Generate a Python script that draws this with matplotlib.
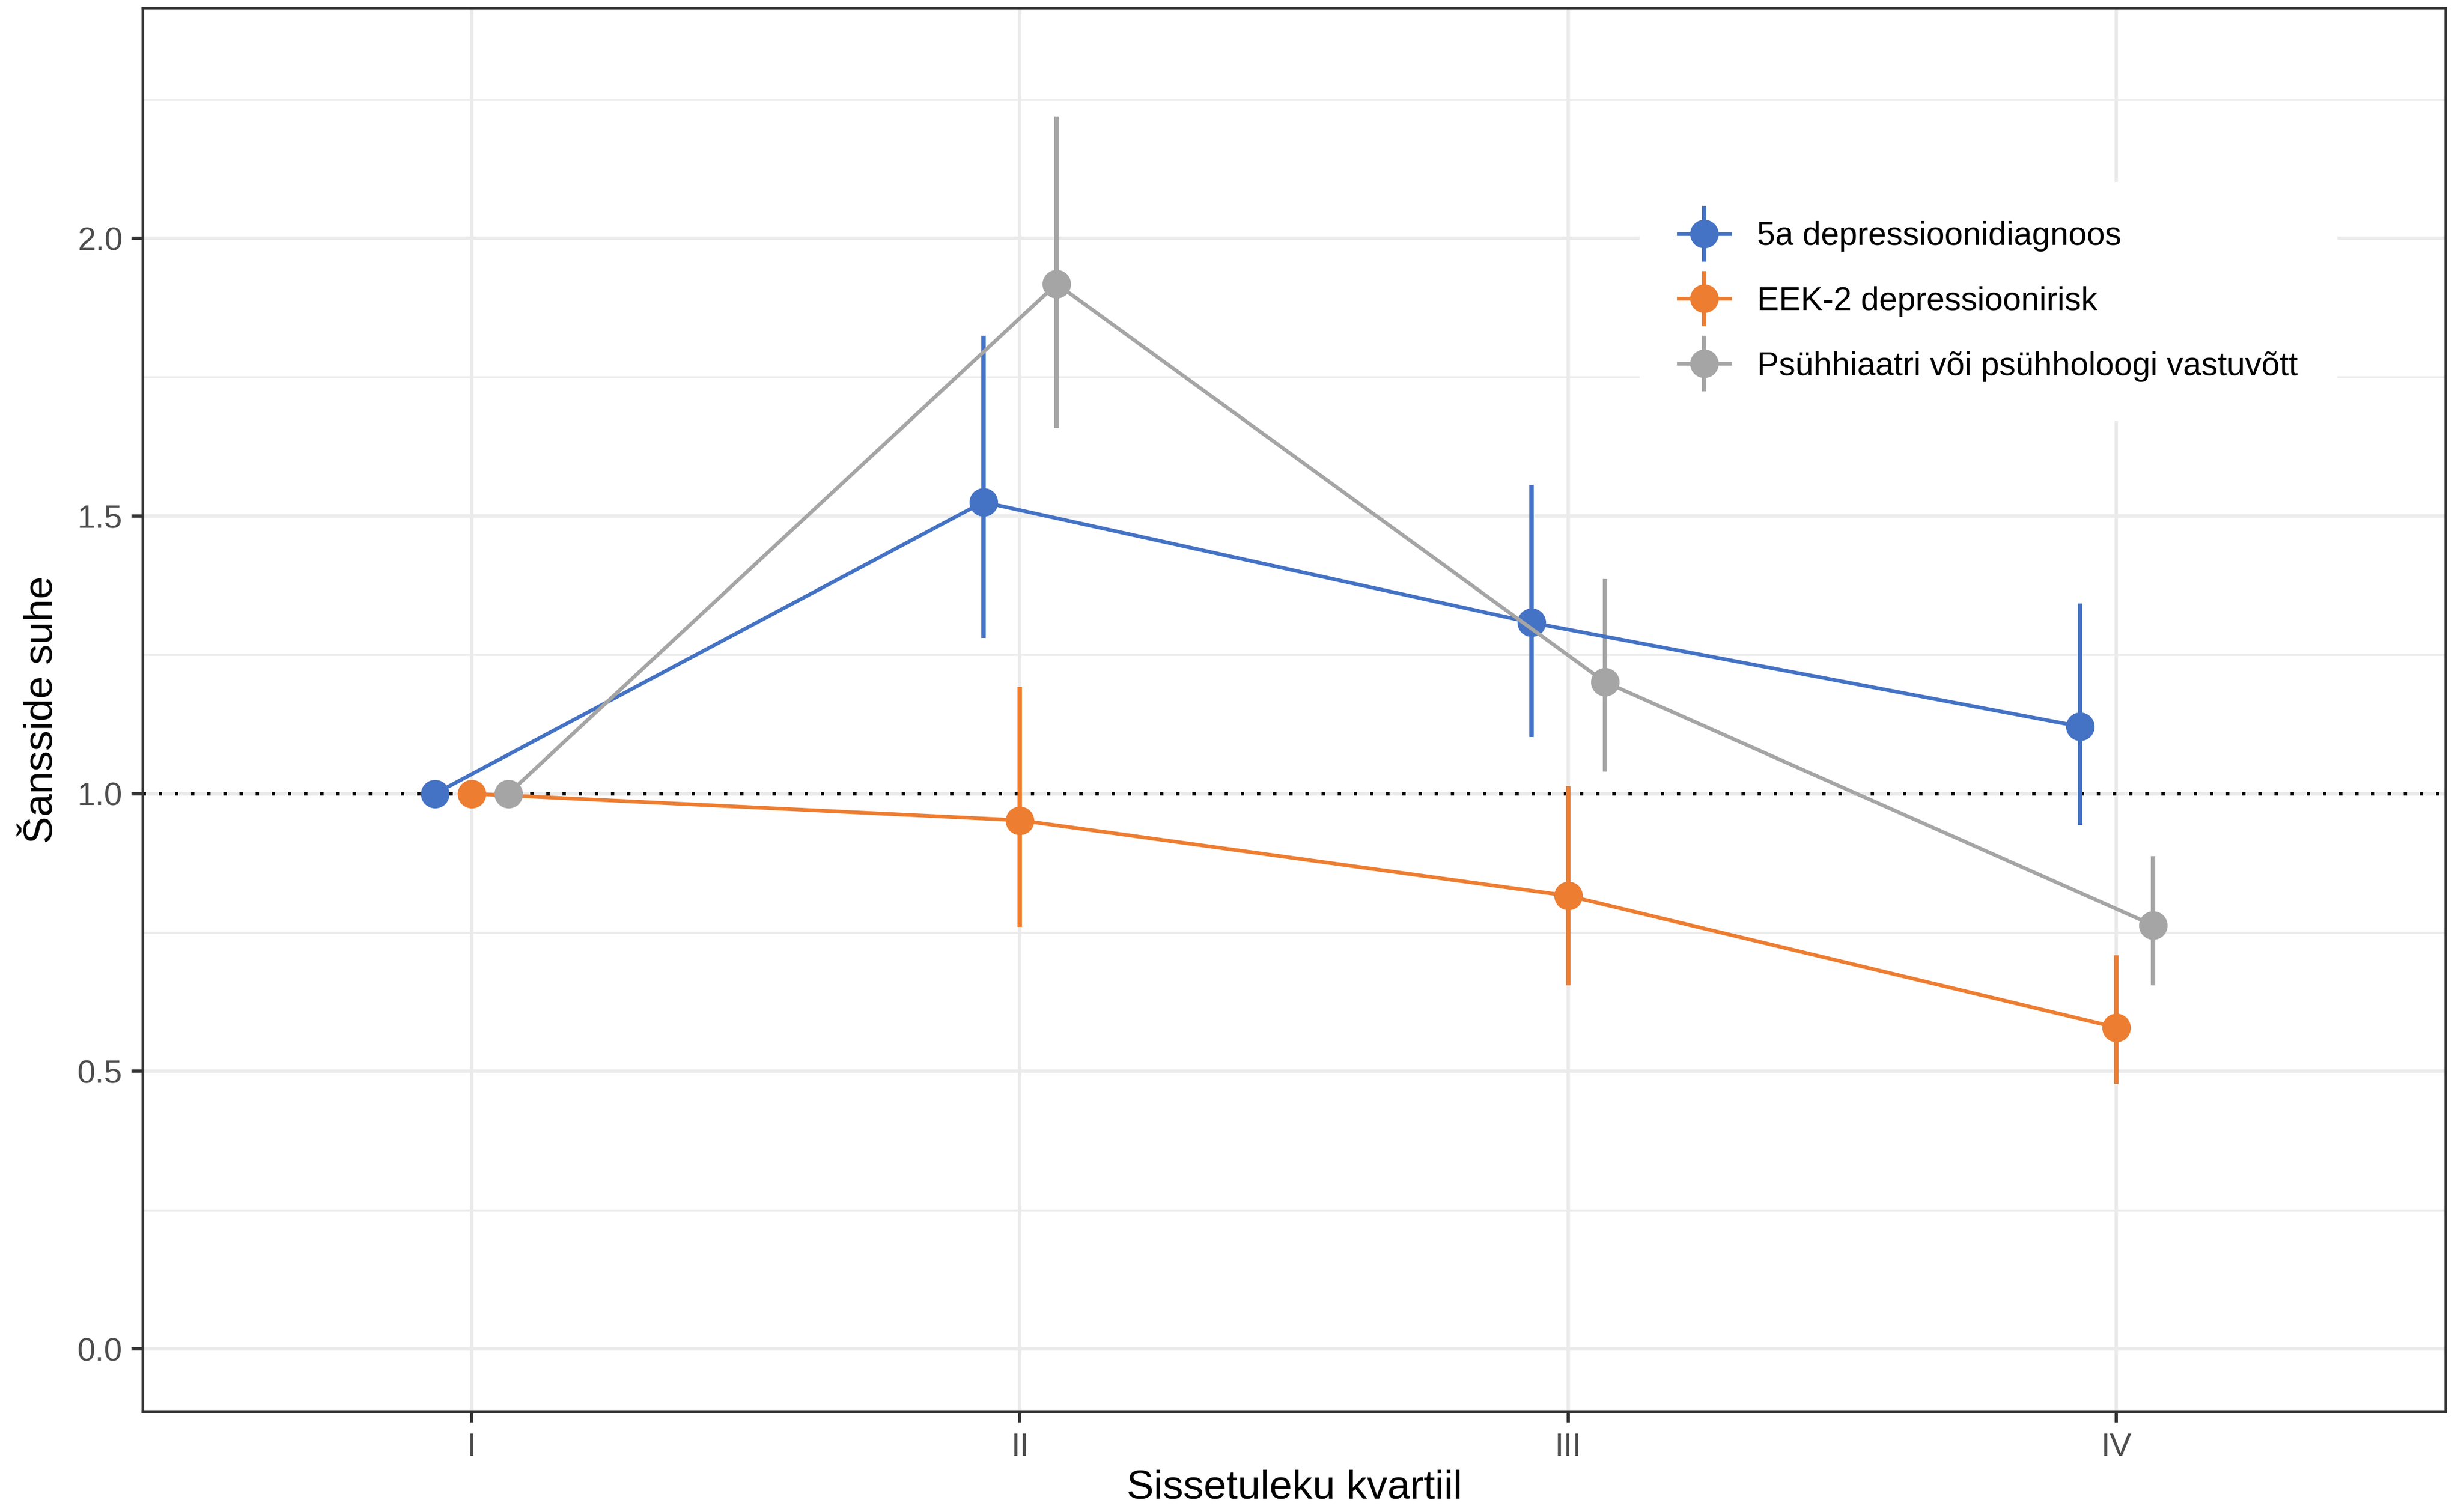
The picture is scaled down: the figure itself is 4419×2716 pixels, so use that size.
import matplotlib
matplotlib.use("Agg")
import matplotlib.pyplot as plt
import numpy as np
from matplotlib.container import ErrorbarContainer
from matplotlib.legend_handler import HandlerErrorbar
from matplotlib.ticker import MultipleLocator

plt.rcParams["font.family"] = ["Liberation Sans", "DejaVu Sans"]

quartiles = ["I", "II", "III", "IV"]
series_names = [
    "5a depressioonidiagnoos",
    "EEK-2 depressioonirisk",
    "Psühhiaatri või psühholoogi vastuvõtt",
]
colors = ["#4472C4", "#ED7D31", "#A5A5A5"]

# odds ratios with CI (first quartile is reference, no CI)
or_diag = np.array([1.00, 1.525, 1.308, 1.121])
lo_diag = np.array([1.00, 1.280, 1.102, 0.944])
hi_diag = np.array([1.00, 1.825, 1.556, 1.342])

or_eek = np.array([1.00, 0.952, 0.816, 0.579])
lo_eek = np.array([1.00, 0.760, 0.655, 0.477])
hi_eek = np.array([1.00, 1.192, 1.014, 0.709])

or_visit = np.array([1.00, 1.918, 1.201, 0.763])
lo_visit = np.array([1.00, 1.658, 1.040, 0.655])
hi_visit = np.array([1.00, 2.220, 1.387, 0.887])

series = [
    (or_diag, lo_diag, hi_diag),
    (or_eek, lo_eek, hi_eek),
    (or_visit, lo_visit, hi_visit),
]
dodge = [-0.067, 0.0, 0.067]

fig = plt.figure(figsize=(4419 / 300, 2716 / 300), dpi=300)
ax = fig.add_axes([0.058, 0.0663, 0.9357, 0.9285])

x = np.arange(1, len(quartiles) + 1)

ax.axhline(1.0, color="black", linestyle=(0, (1, 3.8)), linewidth=1.45,
           dash_capstyle="butt", zorder=2)

for (est, lo, hi), name, col, dx in zip(series, series_names, colors, dodge):
    xs = x + dx
    ax.errorbar(
        xs, est, yerr=[est - lo, hi - est], fmt="-o", color=col,
        linewidth=1.6, markersize=11.3, elinewidth=1.9, capsize=0,
        label=name, zorder=4,
    )

ax.set_xlim(0.4, 4.6)
ax.set_xticks(x)
ax.set_xticklabels(quartiles)
ax.yaxis.set_major_locator(MultipleLocator(0.5))
ax.yaxis.set_minor_locator(MultipleLocator(0.25))
ax.set_ylim(-0.113, 2.415)
ax.set_yticks([0.0, 0.5, 1.0, 1.5, 2.0])
ax.set_yticklabels(["0.0", "0.5", "1.0", "1.5", "2.0"])

ax.grid(which="major", color="#EBEBEB", linewidth=1.5, zorder=0)
ax.grid(which="minor", axis="y", color="#EBEBEB", linewidth=0.75, zorder=0)
ax.set_axisbelow(True)
ax.tick_params(axis="both", which="major", length=4.8, width=1.4, color="#333333",
               labelcolor="#4D4D4D", labelsize=14, pad=4)
ax.tick_params(axis="both", which="minor", length=0)
for s in ax.spines.values():
    s.set_color("#333333")
    s.set_linewidth(1.1)

ax.set_xlabel("Sissetuleku kvartiil", fontsize=17.6, labelpad=3)
ax.set_ylabel("Šansside suhe", fontsize=17.6, labelpad=7)

leg = ax.legend(loc="upper left", bbox_to_anchor=(0.650, 0.876), frameon=True,
                fontsize=14.1, handlelength=1.55, handletextpad=0.85,
                labelspacing=1.05, borderpad=1.2, borderaxespad=0,
                handler_map={ErrorbarContainer: HandlerErrorbar(xerr_size=0.5,
                                                                yerr_size=0.85)})
leg.get_frame().set_edgecolor("none")
leg.get_frame().set_facecolor("white")
leg.get_frame().set_alpha(1.0)
leg.get_frame().set_boxstyle("square", pad=0)

fig.savefig("out.png", dpi=300)
